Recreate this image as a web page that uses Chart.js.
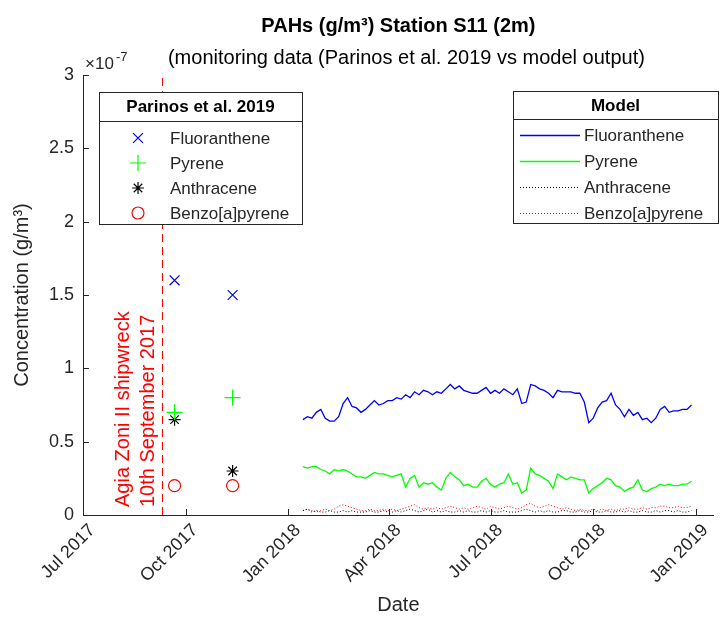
<!DOCTYPE html>
<html>
<head>
<meta charset="utf-8">
<script src="https://cdn.jsdelivr.net/npm/chart.js@4.4.1/dist/chart.umd.min.js"></script>
<style>
  html, body { margin: 0; padding: 0; background: #fff; }
</style>
</head>
<body>
<canvas id="chart" width="723" height="628"></canvas>
<script>
// values in units of 1e-7 g/m3
const SCALE = 1e-7;

// Parinos et al. 2019 samples
const sampleDates = ['2017-09-21', '2017-11-12'];
const obsFluoranthene = [1.6, 1.5];
const obsPyrene = [0.7, 0.8];
const obsAnthracene = [0.65, 0.3];
const obsBenzoPyrene = [0.2, 0.2];

// model output, one value every 4 days from 14 Jan 2018
const modelStart = '2018-01-14';
const modelStepDays = 4;
const modelFluoranthene = [
  0.65,0.67,0.66,0.70,0.72,0.66,0.64,0.64,0.67,0.76,
  0.80,0.74,0.73,0.70,0.72,0.75,0.78,0.75,0.76,0.78,
  0.78,0.80,0.79,0.82,0.80,0.84,0.82,0.85,0.84,0.82,
  0.84,0.83,0.86,0.89,0.86,0.88,0.85,0.84,0.83,0.83,
  0.85,0.87,0.83,0.85,0.83,0.86,0.84,0.82,0.86,0.76,
  0.77,0.89,0.88,0.86,0.85,0.83,0.80,0.85,0.84,0.84,
  0.84,0.83,0.83,0.77,0.63,0.66,0.73,0.77,0.78,0.83,
  0.75,0.72,0.67,0.72,0.68,0.70,0.65,0.66,0.63,0.66,
  0.72,0.74,0.70,0.71,0.71,0.72,0.72,0.75
];
const modelPyrene = [
  0.33,0.32,0.33,0.33,0.31,0.30,0.28,0.31,0.30,0.31,
  0.30,0.28,0.26,0.26,0.25,0.27,0.29,0.28,0.28,0.27,
  0.26,0.27,0.28,0.19,0.25,0.27,0.19,0.22,0.21,0.22,
  0.19,0.17,0.25,0.29,0.26,0.24,0.20,0.21,0.19,0.19,
  0.23,0.25,0.21,0.19,0.21,0.22,0.28,0.21,0.22,0.15,
  0.17,0.32,0.28,0.27,0.25,0.23,0.18,0.28,0.26,0.24,
  0.26,0.25,0.24,0.24,0.15,0.18,0.20,0.22,0.25,0.24,
  0.20,0.19,0.16,0.18,0.19,0.24,0.17,0.16,0.18,0.19,
  0.21,0.20,0.21,0.20,0.20,0.21,0.21,0.23
];
const modelAnthracene = [
  0.03,0.04,0.02,0.03,0.02,0.02,0.03,0.02,0.02,0.03,
  0.02,0.03,0.02,0.02,0.02,0.03,0.02,0.02,0.03,0.02,
  0.02,0.03,0.02,0.03,0.04,0.03,0.02,0.03,0.04,0.02,
  0.03,0.02,0.03,0.02,0.02,0.03,0.02,0.03,0.02,0.02,
  0.03,0.02,0.03,0.02,0.02,0.03,0.02,0.02,0.02,0.03,
  0.04,0.03,0.02,0.03,0.02,0.03,0.02,0.02,0.03,0.03,
  0.02,0.02,0.03,0.02,0.02,0.03,0.02,0.02,0.03,0.02,
  0.02,0.03,0.02,0.03,0.02,0.02,0.03,0.02,0.02,0.03,
  0.02,0.03,0.03,0.02,0.03,0.02,0.02,0.03
];
const modelBenzoPyrene = [
  0.03,0.04,0.03,0.02,0.03,0.04,0.03,0.04,0.06,0.07,
  0.06,0.05,0.04,0.03,0.03,0.04,0.03,0.03,0.04,0.03,
  0.04,0.03,0.04,0.05,0.06,0.07,0.05,0.04,0.05,0.04,
  0.05,0.04,0.05,0.06,0.05,0.04,0.05,0.04,0.05,0.06,
  0.05,0.04,0.06,0.05,0.04,0.05,0.06,0.05,0.04,0.05,
  0.07,0.08,0.06,0.05,0.06,0.07,0.06,0.05,0.04,0.05,
  0.04,0.03,0.04,0.03,0.03,0.04,0.03,0.04,0.03,0.04,
  0.03,0.04,0.04,0.05,0.04,0.04,0.05,0.04,0.05,0.05,
  0.06,0.06,0.05,0.05,0.06,0.05,0.05,0.06
];

const tickDates = ['2017-07-01', '2017-10-01', '2018-01-01', '2018-04-01',
                   '2018-07-01', '2018-10-01', '2019-01-01'];
const yTicks = [0, 0.5, 1, 1.5, 2, 2.5, 3];
const shipwreckDate = '2017-09-10';
const shipwreckText = ['Agia Zoni II shipwreck', '10th September 2017'];

const months = ['Jan','Feb','Mar','Apr','May','Jun','Jul','Aug','Sep','Oct','Nov','Dec'];
const FONT = "'Liberation Sans', Arial, Helvetica, sans-serif";
const DAY = 86400000;
const toMs = s => Date.parse(s + 'T00:00:00Z');
const dateLabel = v => { const d = new Date(v); return months[d.getUTCMonth()] + ' ' + d.getUTCFullYear(); };

const obsPoints = vals => vals.map((v, i) => ({ x: toMs(sampleDates[i]), y: v * SCALE }));
const modelPoints = vals => vals.map((v, i) => ({ x: toMs(modelStart) + i * modelStepDays * DAY, y: v * SCALE }));

function obsSet(label, vals, color, style, radius) {
  return {
    label, group: 'obs', data: obsPoints(vals), showLine: false,
    pointStyle: style, pointRadius: radius, pointHoverRadius: radius,
    pointBorderColor: color, pointBackgroundColor: 'rgba(0,0,0,0)',
    pointBorderWidth: 1.2, borderColor: color, backgroundColor: color
  };
}
function modelSet(label, vals, color, dash, width) {
  return {
    label, group: 'model', data: modelPoints(vals),
    borderColor: color, borderWidth: width, borderDash: dash,
    pointRadius: 0, tension: 0, fill: false
  };
}

const datasets = [
  obsSet('Fluoranthene', obsFluoranthene, '#0000ff', 'crossRot', 7),
  obsSet('Pyrene', obsPyrene, '#00ff00', 'cross', 8),
  obsSet('Anthracene', obsAnthracene, '#000000', 'star', 6),
  obsSet('Benzo[a]pyrene', obsBenzoPyrene, '#ff0000', 'circle', 6),
  modelSet('Fluoranthene', modelFluoranthene, '#0000ff', [], 1.3),
  modelSet('Pyrene', modelPyrene, '#00ff00', [], 1.3),
  modelSet('Anthracene', modelAnthracene, '#000000', [1, 2], 1),
  modelSet('Benzo[a]pyrene', modelBenzoPyrene, '#ff0000', [1, 2], 1)
];

function drawMarker(ctx, style, x, y, r) {
  ctx.beginPath();
  if (style === 'circle') {
    ctx.arc(x, y, r, 0, Math.PI * 2);
  } else {
    const d = r * Math.SQRT1_2;
    if (style === 'cross' || style === 'star') {
      ctx.moveTo(x - r, y); ctx.lineTo(x + r, y);
      ctx.moveTo(x, y - r); ctx.lineTo(x, y + r);
    }
    if (style === 'crossRot' || style === 'star') {
      ctx.moveTo(x - d, y - d); ctx.lineTo(x + d, y + d);
      ctx.moveTo(x - d, y + d); ctx.lineTo(x + d, y - d);
    }
  }
  ctx.stroke();
}

function legendBox(ctx, box, title, sets) {
  ctx.save();
  ctx.fillStyle = '#ffffff';
  ctx.fillRect(box.x, box.y, box.w, box.h);
  ctx.strokeStyle = '#262626';
  ctx.lineWidth = 1;
  ctx.strokeRect(box.x + 0.5, box.y + 0.5, box.w, box.h);
  ctx.beginPath();
  ctx.moveTo(box.x, box.y + box.sep + 0.5);
  ctx.lineTo(box.x + box.w, box.y + box.sep + 0.5);
  ctx.stroke();
  ctx.fillStyle = '#000';
  ctx.font = 'bold 17px ' + FONT;
  ctx.textAlign = 'center';
  ctx.textBaseline = 'middle';
  ctx.fillText(title, box.x + box.w / 2, box.y + box.sep / 2 + 1);
  ctx.font = '17px ' + FONT;
  ctx.textAlign = 'left';
  sets.forEach((ds, i) => {
    const y = box.y + box.row0 + i * box.rowStep;
    ctx.strokeStyle = ds.borderColor;
    if (ds.group === 'obs') {
      ctx.lineWidth = 1.2;
      drawMarker(ctx, ds.pointStyle, box.x + box.mark, y, ds.pointRadius);
    } else {
      ctx.lineWidth = ds.borderWidth;
      ctx.setLineDash(ds.borderDash);
      ctx.beginPath();
      ctx.moveTo(box.x + 7, y + 0.5);
      ctx.lineTo(box.x + 67, y + 0.5);
      ctx.stroke();
      ctx.setLineDash([]);
    }
    ctx.fillStyle = '#262626';
    ctx.fillText(ds.label, box.x + box.text, y + 1);
  });
  ctx.restore();
}

const decorations = {
  id: 'decorations',
  beforeDatasetsDraw(chart) {
    const { ctx, chartArea, scales } = chart;
    const x = Math.round(scales.x.getPixelForValue(toMs(shipwreckDate))) + 0.5;
    ctx.save();
    ctx.strokeStyle = '#ff0000';
    ctx.lineWidth = 1;
    ctx.setLineDash([8, 5]);
    ctx.beginPath();
    ctx.moveTo(x, chartArea.bottom);
    ctx.lineTo(x, chartArea.top);
    ctx.stroke();
    ctx.setLineDash([]);
    ctx.translate(x - 39, chartArea.bottom - 8);
    ctx.rotate(-Math.PI / 2);
    ctx.fillStyle = '#ff0000';
    ctx.font = '20px ' + FONT;
    ctx.textAlign = 'left';
    ctx.textBaseline = 'middle';
    ctx.fillText(shipwreckText[0], 0, 0);
    ctx.fillText(shipwreckText[1], 0, 25);
    ctx.restore();
  },
  afterDraw(chart) {
    const { ctx, chartArea, scales } = chart;
    ctx.save();
    // inward tick marks
    ctx.strokeStyle = '#262626';
    ctx.lineWidth = 1;
    ctx.beginPath();
    scales.x.ticks.forEach(t => {
      const px = Math.round(scales.x.getPixelForValue(t.value)) + 0.5;
      ctx.moveTo(px, chartArea.bottom);
      ctx.lineTo(px, chartArea.bottom - 6);
    });
    scales.y.ticks.forEach(t => {
      const py = Math.round(scales.y.getPixelForValue(t.value)) + 0.5;
      ctx.moveTo(chartArea.left, py);
      ctx.lineTo(chartArea.left + 6, py);
    });
    ctx.stroke();

    // rotated date labels
    ctx.fillStyle = '#262626';
    ctx.font = '18px ' + FONT;
    ctx.textAlign = 'right';
    ctx.textBaseline = 'top';
    scales.x.ticks.forEach(t => {
      const px = scales.x.getPixelForValue(t.value);
      ctx.save();
      ctx.translate(px + 3, chartArea.bottom + 6);
      ctx.rotate(-Math.PI / 4);
      ctx.fillText(dateLabel(t.value), 0, 0);
      ctx.restore();
    });

    // titles
    const cx = (chartArea.left + chartArea.right) / 2;
    ctx.fillStyle = '#000';
    ctx.textAlign = 'center';
    ctx.textBaseline = 'middle';
    ctx.font = 'bold 20px ' + FONT;
    ctx.fillText('PAHs (g/m³) Station S11 (2m)', cx, 26);
    ctx.font = '20px ' + FONT;
    ctx.fillText('(monitoring data (Parinos et al. 2019 vs model output)', cx + 8, 58);

    // exponent label
    ctx.fillStyle = '#262626';
    ctx.textAlign = 'left';
    ctx.font = '17px ' + FONT;
    ctx.fillText('×10', chartArea.left + 2, 64);
    ctx.font = '13px ' + FONT;
    ctx.fillText('-7', chartArea.left + 33, 57);
    ctx.restore();

    const ds = chart.data.datasets;
    legendBox(ctx, { x: 99, y: 92, w: 203, h: 132, sep: 29, row0: 46, rowStep: 25, mark: 39, text: 71 },
      'Parinos et al. 2019', ds.filter(d => d.group === 'obs'));
    legendBox(ctx, { x: 513, y: 91, w: 205, h: 132, sep: 28, row0: 44, rowStep: 26, mark: 0, text: 71 },
      'Model', ds.filter(d => d.group === 'model'));
  }
};

new Chart(document.getElementById('chart'), {
  type: 'line',
  data: { datasets },
  options: {
    responsive: false,
    animation: false,
    layout: { padding: { top: 75, right: 3, left: 0, bottom: 0 } },
    plugins: { legend: { display: false }, title: { display: false }, tooltip: { enabled: false } },
    scales: {
      x: {
        type: 'linear',
        min: toMs('2017-07-01'),
        max: toMs('2019-01-17'),
        grid: { display: false, drawTicks: false },
        border: { display: true, color: '#262626', width: 1 },
        afterBuildTicks: s => { s.ticks = tickDates.map(d => ({ value: toMs(d) })); },
        afterFit: s => { s.height = 113; },
        ticks: { display: false, autoSkip: false },
        title: { display: true, text: 'Date', color: '#262626', font: { family: FONT, size: 20 }, padding: { top: 0, bottom: 11 } }
      },
      y: {
        min: 0,
        max: 3 * SCALE,
        grid: { display: false, drawTicks: false },
        border: { display: true, color: '#262626', width: 1 },
        afterBuildTicks: s => { s.ticks = yTicks.map(v => ({ value: v * SCALE })); },
        afterFit: s => { s.width = 83; },
        ticks: {
          padding: 9, color: '#262626', font: { family: FONT, size: 18 },
          callback: v => String(Math.round(v / SCALE * 10) / 10)
        },
        title: { display: true, text: 'Concentration (g/m³)', color: '#262626', font: { family: FONT, size: 20 }, padding: { top: 10, bottom: 0 } }
      }
    }
  },
  plugins: [decorations]
});
</script>
</body>
</html>
